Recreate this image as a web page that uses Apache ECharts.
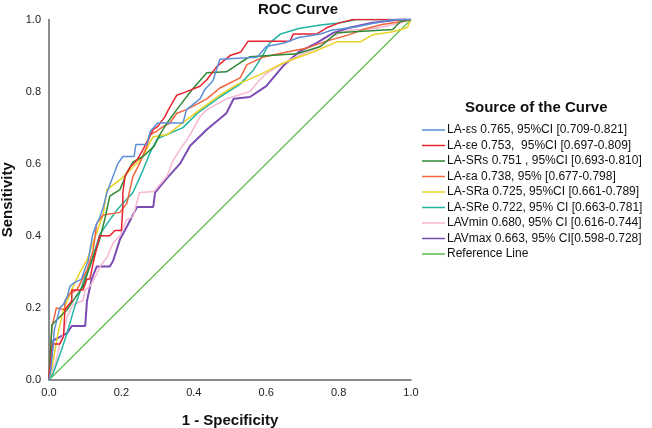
<!DOCTYPE html>
<html>
<head>
<meta charset="utf-8">
<script src="https://cdn.jsdelivr.net/npm/echarts@6/dist/echarts.min.js"></script>
<style>html,body{margin:0;padding:0;background:#fff}#c{width:652px;height:428px}</style>
</head>
<body>
<div id="c"></div>
<script>
const axisTicks = [0, 0.2, 0.4, 0.6, 0.8, 1.0];
const seriesNames = [
  "LA-εs 0.765, 95%CI [0.709-0.821]",
  "LA-εe 0.753,  95%CI [0.697-0.809]",
  "LA-SRs 0.751 , 95%CI [0.693-0.810]",
  "LA-εa 0.738, 95% [0.677-0.798]",
  "LA-SRa 0.725, 95%CI [0.661-0.789]",
  "LA-SRe 0.722, 95% CI [0.663-0.781]",
  "LAVmin 0.680, 95% CI [0.616-0.744]",
  "LAVmax 0.663, 95% CI[0.598-0.728]",
  "Reference Line"
];
const laEs = [[0,0],[0.005,0.03],[0.01,0.08],[0.015,0.14],[0.02,0.16],[0.03,0.2],[0.04,0.21],[0.05,0.23],[0.058,0.26],[0.07,0.27],[0.09,0.28],[0.1,0.31],[0.108,0.33],[0.115,0.37],[0.12,0.4],[0.13,0.43],[0.14,0.45],[0.15,0.48],[0.16,0.52],[0.177,0.565],[0.19,0.6],[0.204,0.62],[0.235,0.62],[0.24,0.653],[0.27,0.653],[0.28,0.69],[0.3,0.713],[0.37,0.713],[0.38,0.75],[0.417,0.78],[0.43,0.805],[0.453,0.83],[0.472,0.89],[0.575,0.895],[0.6,0.925],[0.65,0.935],[0.69,0.95],[0.75,0.96],[0.78,0.97],[0.85,0.98],[0.9,0.99],[0.95,1.0],[1,1]];
const laEe = [[0,0],[0,0.01],[0.01,0.1],[0.03,0.1],[0.04,0.12],[0.044,0.195],[0.063,0.22],[0.063,0.25],[0.094,0.25],[0.105,0.28],[0.113,0.28],[0.122,0.325],[0.14,0.4],[0.168,0.4],[0.182,0.415],[0.2,0.415],[0.204,0.48],[0.204,0.52],[0.21,0.565],[0.224,0.59],[0.243,0.61],[0.26,0.64],[0.27,0.66],[0.288,0.695],[0.3,0.703],[0.32,0.73],[0.33,0.75],[0.353,0.79],[0.38,0.8],[0.417,0.815],[0.436,0.833],[0.464,0.87],[0.5,0.9],[0.53,0.91],[0.55,0.94],[0.666,0.94],[0.675,0.96],[0.74,0.96],[0.767,0.977],[0.8,0.99],[0.84,1.0],[1,1]];
const laSRs = [[0,0],[0.008,0.153],[0.05,0.195],[0.094,0.26],[0.113,0.315],[0.14,0.39],[0.155,0.45],[0.168,0.51],[0.196,0.528],[0.215,0.575],[0.232,0.605],[0.26,0.62],[0.29,0.648],[0.306,0.68],[0.326,0.713],[0.353,0.75],[0.395,0.805],[0.436,0.852],[0.49,0.855],[0.528,0.88],[0.555,0.897],[0.685,0.905],[0.75,0.925],[0.795,0.963],[0.95,0.972],[0.97,0.994],[1,1]];
const laEa = [[0,0],[0.008,0.147],[0.017,0.185],[0.02,0.2],[0.044,0.195],[0.044,0.22],[0.058,0.24],[0.077,0.25],[0.105,0.305],[0.122,0.36],[0.132,0.435],[0.15,0.458],[0.196,0.465],[0.215,0.49],[0.232,0.565],[0.25,0.6],[0.27,0.648],[0.279,0.68],[0.297,0.69],[0.315,0.703],[0.334,0.713],[0.353,0.74],[0.38,0.75],[0.436,0.78],[0.472,0.81],[0.528,0.838],[0.547,0.875],[0.59,0.895],[0.657,0.91],[0.71,0.92],[0.767,0.94],[0.83,0.958],[0.867,0.972],[0.92,0.986],[0.97,0.994],[1,1]];
const laSRa = [[0,0],[0.012,0.055],[0.025,0.13],[0.04,0.195],[0.067,0.26],[0.086,0.3],[0.105,0.333],[0.132,0.41],[0.15,0.46],[0.16,0.528],[0.196,0.555],[0.232,0.59],[0.26,0.62],[0.279,0.66],[0.288,0.675],[0.326,0.68],[0.417,0.75],[0.472,0.79],[0.52,0.82],[0.583,0.847],[0.638,0.875],[0.685,0.894],[0.73,0.91],[0.795,0.938],[0.86,0.938],[0.895,0.958],[0.95,0.966],[0.99,0.978],[1,1]];
const laSRe = [[0,0],[0.012,0.02],[0.03,0.07],[0.05,0.13],[0.07,0.2],[0.094,0.27],[0.12,0.34],[0.141,0.405],[0.165,0.44],[0.188,0.472],[0.232,0.52],[0.26,0.583],[0.279,0.63],[0.3,0.67],[0.37,0.7],[0.41,0.74],[0.445,0.765],[0.472,0.785],[0.527,0.82],[0.565,0.86],[0.59,0.9],[0.61,0.935],[0.64,0.96],[0.69,0.975],[0.75,0.985],[0.8,0.99],[0.85,1.0],[1,1]];
const lavMin = [[0,0],[0.01,0.03],[0.02,0.055],[0.03,0.1],[0.04,0.13],[0.05,0.175],[0.067,0.21],[0.094,0.22],[0.1,0.25],[0.113,0.26],[0.13,0.29],[0.141,0.315],[0.16,0.34],[0.177,0.38],[0.196,0.4],[0.215,0.445],[0.232,0.453],[0.25,0.52],[0.29,0.523],[0.326,0.565],[0.343,0.61],[0.362,0.64],[0.38,0.665],[0.398,0.695],[0.417,0.73],[0.436,0.75],[0.49,0.78],[0.555,0.8],[0.58,0.83],[0.6,0.85],[0.65,0.88],[0.69,0.9],[0.74,0.92],[0.785,0.955],[0.83,0.97],[0.9,0.975],[0.97,0.99],[1,1]];
const lavMax = [[0,0],[0.005,0.05],[0.012,0.11],[0.05,0.13],[0.063,0.15],[0.1,0.15],[0.105,0.22],[0.118,0.28],[0.132,0.315],[0.168,0.315],[0.177,0.33],[0.196,0.39],[0.215,0.425],[0.243,0.48],[0.288,0.48],[0.293,0.52],[0.326,0.56],[0.362,0.6],[0.39,0.65],[0.436,0.695],[0.49,0.74],[0.51,0.78],[0.555,0.785],[0.6,0.815],[0.646,0.87],[0.69,0.91],[0.74,0.935],[0.785,0.963],[0.83,0.977],[0.887,0.99],[0.97,1.0],[1,1]];
const refLine = [[0,0],[1,1]];

const dataSets = [laEs, laEe, laSRs, laEa, laSRa, laSRe, lavMin, lavMax, refLine];
const colors = ['#5b8fd8','#e8232f','#2f8a36','#f4653c','#e8d222','#22b4a2','#f7b8d2','#7b4cb3','#58bb46'];
const widths = [1.5,1.5,1.5,1.5,1.5,1.5,1.5,2,1.1];

const chart = echarts.init(document.getElementById('c'));
const font = 'Liberation Sans, Arial, sans-serif';
chart.setOption({
  backgroundColor: '#fff',
  animation: false,
  color: colors,
  title: [
    {text: 'ROC Curve', left: 258, top: 2, padding: [0,0,0,0],
     textStyle: {fontFamily: font, fontSize: 15, fontWeight: 'bold', color: '#111'}},
    {text: 'Source of the Curve', left: 465, top: 100, padding: [0,0,0,0],
     textStyle: {fontFamily: font, fontSize: 15, fontWeight: 'bold', color: '#111'}}
  ],
  grid: {left: 49, right: 241, top: 19.5, bottom: 48, containLabel: false, outerBoundsMode: 'none'},
  legend: {
    orient: 'vertical', left: 422, top: 124, padding: 0,
    icon: 'rect', itemWidth: 23, itemHeight: 1.5, itemGap: 3.5,
    textStyle: {fontFamily: font, fontSize: 12, color: '#111', lineHeight: 12, padding: [0,0,0,-3]},
    data: seriesNames
  },
  xAxis: {
    type: 'value', min: 0, max: 1, interval: 0.2,
    name: '1 - Specificity', nameLocation: 'middle', nameGap: 33, nameMoveOverlap: false,
    nameTextStyle: {fontFamily: font, fontSize: 15, fontWeight: 'bold', color: '#111'},
    axisLine: {show: true, lineStyle: {color: '#666', width: 1.5}},
    axisTick: {show: false}, splitLine: {show: false},
    axisLabel: {fontFamily: font, fontSize: 11, color: '#222', margin: 7,
      formatter: v => axisTicks.includes(+v.toFixed(1)) ? v.toFixed(1) : ''}
  },
  yAxis: {
    type: 'value', min: 0, max: 1, interval: 0.2,
    name: 'Sensitivity', nameLocation: 'middle', nameGap: 34, nameRotate: 90, nameMoveOverlap: false,
    nameTextStyle: {fontFamily: font, fontSize: 15, fontWeight: 'bold', color: '#111'},
    axisLine: {show: true, lineStyle: {color: '#666', width: 1.5}},
    axisTick: {show: false}, splitLine: {show: false},
    axisLabel: {fontFamily: font, fontSize: 11, color: '#222', margin: 8,
      formatter: v => v.toFixed(1)}
  },
  series: dataSets.map((d, i) => ({
    name: seriesNames[i], type: 'line', data: d, showSymbol: false, symbol: 'none',
    lineStyle: {color: colors[i], width: widths[i]},
    itemStyle: {color: colors[i]},
    z: i === 8 ? 1 : 10 - i
  }))
});
</script>
</body>
</html>
